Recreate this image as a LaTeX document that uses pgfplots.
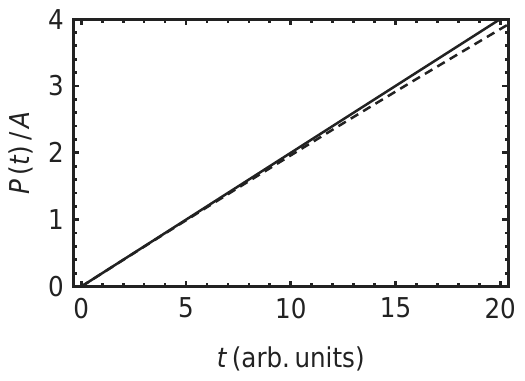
\documentclass[border=0pt]{standalone}
\usepackage{fontspec}
\setmainfont{DejaVu Sans Condensed}
\usepackage{pgfplots}
\pgfplotsset{compat=1.18}
\begin{document}
\fontsize{14.2}{16}\selectfont
\begin{tikzpicture}
\definecolor{ink}{HTML}{222222}
\begin{axis}[
  width=226pt, height=139pt, scale only axis,
  xmin=-0.38, xmax=20.38, ymin=0, ymax=4,
  xtick={0,5,10,15,20}, minor x tick num=4,
  ytick={0,1,2,3,4}, minor y tick num=4,
  tick align=inside,
  major tick length=3pt, minor tick length=1.8pt,
  every tick/.style={ink, line width=1.4pt},
  axis line style={ink, line width=1.6pt},
  /pgf/number format/assume math mode=true,
  ticklabel style={font=\fontsize{14.2}{16}\selectfont, text=ink},
  xticklabel style={yshift=-1pt},
  xlabel={\textit{t}\,(arb.\,units)},
  ylabel={\textit{P}\,(\textit{t})\,/\,\textit{A}},
  label style={font=\fontsize{14.2}{16}\selectfont, text=ink},
  xlabel style={yshift=-5pt},
  ylabel style={yshift=-2pt},
  clip=true,
]
\addplot[ink, line width=1.3pt] coordinates {(0,0) (20.5,4.1)};
\addplot[ink, line width=1.3pt, dash pattern=on 4.5pt off 3pt] coordinates {
(0,0) (2,0.398) (4,0.794) (6,1.187) (8,1.576) (10,1.962) (12,2.346) (14,2.726) (16,3.104) (18,3.478) (20,3.85) (20.5,3.942)};
\end{axis}
\end{tikzpicture}
\end{document}
